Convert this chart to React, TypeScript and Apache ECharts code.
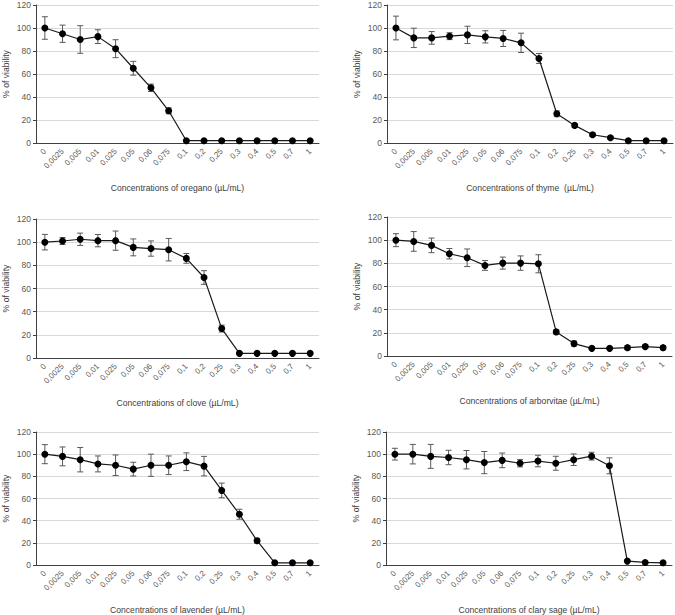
import React, { useEffect, useRef } from "react";
import * as echarts from "echarts";

const categories = ["0", "0,0025", "0,005", "0,01", "0,025", "0,05", "0,06", "0,075", "0,1", "0,2", "0,25", "0,3", "0,4", "0,5", "0,7", "1"];
const yTicks = [0, 20, 40, 60, 80, 100, 120];

const oreganoMean = [100, 95, 90, 92.5, 82, 65, 48, 28, 2, 2, 2, 2, 2, 2, 2, 2];
const oreganoErr = [9.8, 7.5, 12, 6, 7.8, 6, 3.2, 2.6, 0.5, 0.5, 0.5, 0.5, 0.5, 0.5, 0.5, 0.5];

const thymeMean = [100, 91.4, 91.4, 92.9, 94, 92.3, 90.9, 87.1, 73.5, 25.4, 15.3, 7.2, 4.6, 2, 2, 2];
const thymeErr = [10.3, 8.4, 5.5, 3, 7.5, 5.3, 7, 8.4, 4.3, 2.5, 1.5, 1.5, 1.2, 0.5, 0.5, 0.5];

const cloveMean = [100, 101, 102.5, 101.3, 101.3, 95.5, 94.5, 93.5, 86, 69.5, 25.4, 4, 4, 4, 4, 4];
const cloveErr = [6.7, 3, 5.3, 5.3, 8.3, 7.3, 6.6, 9.7, 4.2, 5.9, 3, 0.5, 0.5, 0.5, 0.5, 0.5];

const arborvitaeMean = [100, 98.9, 95.5, 88.3, 84.8, 78.2, 80.2, 80.2, 79.6, 20.8, 10.7, 6.6, 6.6, 7.2, 8.1, 7.2];
const arborvitaeErr = [5.6, 8.5, 6.3, 4.5, 7.6, 4.2, 5.2, 6.2, 7.8, 2, 2.2, 1, 1, 1.8, 1.5, 1.8];

const lavenderMean = [100, 98, 95, 91.2, 90, 86.5, 90, 90, 93.2, 89.2, 67.3, 45.8, 21.9, 2, 2, 2];
const lavenderErr = [8.6, 8.5, 11, 7.2, 9.3, 6.2, 10, 8.4, 8, 8.8, 6.6, 4.5, 2.2, 0.5, 0.5, 0.5];

const clarySageMean = [100, 100, 98, 97, 95, 92.4, 94.4, 91.8, 93.8, 91.8, 95, 98.2, 89.5, 3.5, 2.3, 2];
const clarySageErr = [5.3, 8.8, 10.8, 6.5, 8.3, 10, 6.6, 3.3, 5.2, 6.3, 5.2, 3.5, 7.2, 0.5, 0.5, 0.5];

const panelNames = [
  "Concentrations of oregano (\u00b5L/mL)",
  "Concentrations of thyme  (\u00b5L/mL)",
  "Concentrations of clove (\u00b5L/mL)",
  "Concentrations of arborvitae (\u00b5L/mL)",
  "Concentrations of lavender (\u00b5L/mL)",
  "Concentrations of clary sage (\u00b5L/mL)",
];
const panelMeans = [oreganoMean, thymeMean, cloveMean, arborvitaeMean, lavenderMean, clarySageMean];
const panelErrs = [oreganoErr, thymeErr, cloveErr, arborvitaeErr, lavenderErr, clarySageErr];

const gridBoxes = [
  { left: 33, top: 5, width: 286, height: 138 },
  { left: 387, top: 5, width: 286, height: 138 },
  { left: 32, top: 219, width: 287, height: 139 },
  { left: 387, top: 217, width: 285, height: 139 },
  { left: 32, top: 432, width: 287, height: 139 },
  { left: 386, top: 432, width: 286, height: 139 },
];

const FONT = "Liberation Sans";

export default function App() {
  const ref = useRef<HTMLDivElement>(null);
  useEffect(() => {
    if (!ref.current) return;
    const chart = echarts.init(ref.current, null, { renderer: "svg" });
    const grids: any[] = [];
    const xAxes: any[] = [];
    const yAxes: any[] = [];
    const series: any[] = [];
    panelMeans.forEach((means, i) => {
      const errs = panelErrs[i];
      grids.push({ ...gridBoxes[i], containLabel: false });
      xAxes.push({
        type: "category",
        gridIndex: i,
        data: categories,
        boundaryGap: true,
        axisLine: { show: true, lineStyle: { color: "#404040", width: 1 } },
        axisTick: { show: false },
        axisLabel: { interval: 0, rotate: 45, fontSize: 8, color: "#595959", margin: 7, fontFamily: FONT },
        name: panelNames[i],
        nameLocation: "middle",
        nameGap: 40,
        nameTextStyle: { fontSize: 8.6, color: "#404040", fontFamily: FONT },
      });
      yAxes.push({
        type: "value",
        gridIndex: i,
        min: 0,
        max: 120,
        interval: 20,
        axisLine: { show: true, lineStyle: { color: "#404040", width: 1 } },
        axisTick: { show: true, length: 3, lineStyle: { color: "#404040" } },
        axisLabel: { fontSize: 8.5, color: "#595959", margin: 5, fontFamily: FONT,
          formatter: (v: number) => (yTicks.includes(v) ? String(v) : "") },
        splitLine: { show: true, lineStyle: { color: "#d9d9d9", width: 1 } },
        name: "% of viability",
        nameLocation: "middle",
        nameGap: 26,
        nameTextStyle: { fontSize: 8.6, color: "#404040", fontFamily: FONT },
      });
      series.push({
        type: "custom",
        xAxisIndex: i,
        yAxisIndex: i,
        z: 1,
        data: means.map((m, k) => [k, m - errs[k], m + errs[k]]),
        renderItem: (params: any, api: any) => {
          const x = api.value(0);
          const lo = api.coord([x, api.value(1)]);
          const hi = api.coord([x, api.value(2)]);
          const hw = 3;
          const st = { stroke: "#595959", lineWidth: 1 };
          return {
            type: "group",
            children: [
              { type: "line", shape: { x1: lo[0], y1: lo[1], x2: hi[0], y2: hi[1] }, style: st },
              { type: "line", shape: { x1: lo[0] - hw, y1: lo[1], x2: lo[0] + hw, y2: lo[1] }, style: st },
              { type: "line", shape: { x1: hi[0] - hw, y1: hi[1], x2: hi[0] + hw, y2: hi[1] }, style: st },
            ],
          };
        },
      });
      series.push({
        type: "line",
        xAxisIndex: i,
        yAxisIndex: i,
        z: 3,
        data: means,
        symbol: "circle",
        symbolSize: 7,
        itemStyle: { color: "#000000" },
        lineStyle: { color: "#1a1a1a", width: 1.2 },
      });
    });
    chart.setOption({
      animation: false,
      backgroundColor: "#ffffff",
      textStyle: { fontFamily: FONT },
      grid: grids,
      xAxis: xAxes,
      yAxis: yAxes,
      series,
    });
    return () => chart.dispose();
  }, []);
  return (
    <div
      ref={ref}
      style={{ position: "fixed", left: 0, top: 0, width: 675, height: 615, background: "#fff" }}
    />
  );
}
